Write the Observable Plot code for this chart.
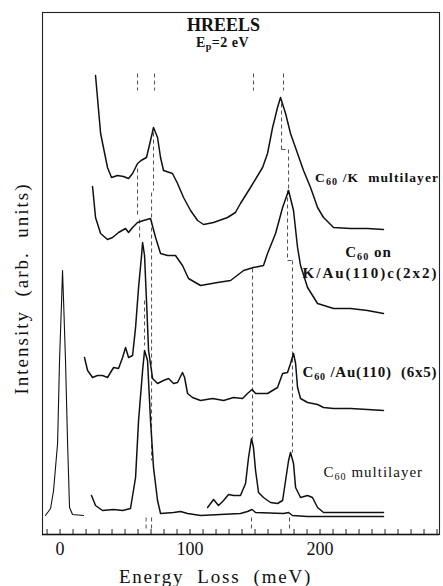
<!DOCTYPE html>
<html>
<head>
<meta charset="utf-8">
<script src="https://cdn.jsdelivr.net/npm/d3@7"></script>
<script src="https://cdn.jsdelivr.net/npm/@observablehq/plot@0.6"></script>
<style>
  html, body { margin: 0; padding: 0; background: #fff; }
  svg text { white-space: pre; }
</style>
</head>
<body>
<div id="chart"></div>
<script>
// Energy loss (meV), intensity (arb. units, stacked offsets as drawn)
const elastic = [[-11.2,19],[-7.3,26],[-5.0,44],[-1.9,91],[-0.4,174],[1.2,234],[1.9,264],[2.7,234],[4.2,174],[5.8,91],[7.3,27],[9.6,20],[18.1,19]];

const c60KMulti = [[27.3,459],[31.2,401],[36.5,367],[39.6,357],[44.2,359],[48.8,358],[52.7,356],[55.8,361],[59.6,371],[62.3,374],[66.5,377],[69.6,394],[71.9,407],[75.0,397],[77.3,377],[79.6,364],[86.5,361],[90.4,351],[95.0,337],[100.4,324],[105.8,314],[110.4,310],[118.1,312],[128.8,317],[134.9,322],[138.8,331],[146.5,347],[155.8,367],[159.6,381],[163.5,407],[167.3,427],[169.6,437],[173.5,421],[177.3,401],[182.7,381],[187.3,364],[192.7,347],[198.1,327],[202.7,317],[210.4,307],[223.5,306],[236.5,306],[248.8,305]];

const c60OnKAu = [[25.0,348],[27.3,317],[31.2,301],[36.5,295],[40.4,297],[45.0,302],[50.4,306],[52.7,302],[55.8,307],[59.6,312],[64.2,314],[69.6,316],[73.5,297],[77.3,281],[82.7,279],[88.8,279],[94.2,269],[98.8,256],[108.1,249],[121.2,252],[131.2,254],[141.2,264],[148.8,267],[156.5,269],[159.6,281],[165.8,301],[171.2,327],[175.8,344],[179.6,324],[182.7,287],[185.0,269],[190.4,247],[198.1,231],[210.4,226],[223.5,226],[236.5,224],[248.8,221]];

const c60Au6x5 = [[18.8,177],[21.2,164],[25.0,157],[28.8,159],[32.7,159],[36.5,157],[41.2,167],[45.0,166],[48.1,177],[50.4,187],[52.7,177],[55.8,179],[58.1,207],[60.4,247],[62.7,279],[63.5,292],[65.0,279],[66.5,234],[68.1,184],[71.2,156],[75.0,151],[79.6,154],[83.5,156],[87.3,151],[90.4,152],[94.2,162],[95.8,157],[98.1,141],[101.9,137],[108.1,134],[117.3,136],[125.8,134],[133.5,137],[140.4,136],[144.2,141],[147.7,145],[150.4,141],[159.6,141],[167.3,147],[171.2,161],[175.0,162],[177.3,171],[179.6,181],[181.2,171],[182.7,147],[185.0,136],[190.4,132],[198.1,130],[202.7,127],[210.4,126],[223.5,126],[236.5,125],[248.8,124]];

const c60Multi = [[24.2,39],[27.3,29],[32.7,24],[41.2,25],[48.1,24],[54.2,26],[58.1,57],[60.4,114],[63.5,164],[65.0,184],[67.3,174],[69.6,114],[71.9,67],[75.0,34],[77.3,21],[87.3,22],[92.7,23],[98.1,21],[108.1,19],[138.8,21],[144.2,23],[147.7,25],[150.4,22],[171.9,21],[175.8,22],[178.8,19],[190.4,18],[248.8,18]];

const c60MultiZoom = [[113.5,27],[118.1,35],[121.9,29],[125.8,34],[129.6,40],[133.5,39],[138.8,39],[142.7,51],[145.0,77],[147.3,96],[148.8,87],[150.4,64],[152.7,42],[156.5,37],[161.9,32],[167.3,31],[171.2,34],[173.5,54],[175.8,74],[177.3,82],[179.6,71],[181.2,47],[185.0,37],[190.4,39],[194.2,37],[198.1,27],[202.7,22],[215.8,22],[248.8,22]];

// dashed guide segments: [x1, y1, x2, y2]
const guides = [
  [59.6,461,59.6,444],[72.7,461,72.7,444],[148.8,461,148.8,444],[171.9,461,171.9,444],
  [59.6,366,59.6,319],[61.2,315,61.2,296],[65.0,234,65.0,189],
  [71.9,402,71.9,344],[70.4,342,70.4,74],
  [170.4,431,170.4,385],[170.4,385,175.8,385],[175.8,385,175.8,344],
  [175.0,344,175.0,274],[175.0,274,178.8,274],[178.8,274,178.8,82],
  [148.1,266,148.1,96],
  [66.2,17,66.2,4],[70.4,17,70.4,4],[147.3,17,147.3,4],[176.5,17,176.5,4]
];

const majorTicks = [0, 100, 200];
const minorTicks = d3.range(-10, 300, 10);

const labels = [
  {x:125.8, y:509, text:"HREELS", size:18, weight:"bold", anchor:"middle", ls:0},
  {x:125.0, y:492, text:"E{p}=2 eV", size:14, weight:"bold", anchor:"middle", ls:0.5},
  {x:196.2, y:357, text:"C{60} /K  multilayer", size:13.5, weight:"bold", anchor:"start", ls:1.1},
  {x:237.3, y:282, text:"C{60} on", size:15, weight:"bold", anchor:"middle", ls:1},
  {x:238.8, y:261, text:"K/Au(110)c(2x2)", size:15, weight:"bold", anchor:"middle", ls:2},
  {x:186.5, y:162, text:"C{60} /Au(110)  (6x5)", size:15, weight:"bold", anchor:"start", ls:0.8},
  {x:202.7, y:62, text:"C{60} multilayer", size:15, weight:"normal", anchor:"start", ls:1}
];

const serif = "'Liberation Serif', 'DejaVu Serif', serif";
const toRows = (arr, name) => arr.map(([x, y]) => ({x, y, name}));
const series = [
  ...toRows(elastic, "elastic"),
  ...toRows(c60KMulti, "C60/K multilayer"),
  ...toRows(c60OnKAu, "C60 on K/Au(110)c(2x2)"),
  ...toRows(c60Au6x5, "C60/Au(110) (6x5)"),
  ...toRows(c60Multi, "C60 multilayer"),
  ...toRows(c60MultiZoom, "C60 multilayer x")
];

const yLabel = "Intensity  (arb.  units)";
const xLabel = "Energy  Loss  (meV)";

const chart = Plot.plot({
  width: 443,
  height: 586,
  marginTop: 12,
  marginLeft: 42,
  marginRight: 4,
  marginBottom: 52,
  style: {fontFamily: serif, background: "#fff", color: "#111"},
  x: {domain: [-13.5, 291.9], axis: null},
  y: {domain: [0, 522], axis: null},
  marks: [
    Plot.frame({stroke: "#222", strokeWidth: 1.1}),
    Plot.ruleY([0], {stroke: "#111", strokeWidth: 1.6}),
    Plot.ruleX(minorTicks, {x: d => d, y1: 0, y2: 5, stroke: "#222", strokeWidth: 1}),
    Plot.text(majorTicks, {x: d => d, text: d => String(d), frameAnchor: "bottom", lineAnchor: "middle", dy: 15, fontSize: 18, fontFamily: serif, fill: "#111"}),
    Plot.link(guides, {x1: d => d[0], y1: d => d[1], x2: d => d[2], y2: d => d[3], stroke: "#222", strokeWidth: 0.8, strokeDasharray: "4,3"}),
    Plot.line(series.filter(d => d.name === "elastic"), {x: "x", y: "y", stroke: "#111", strokeWidth: 1.1, curve: "linear"}),
    Plot.line(series.filter(d => d.name !== "elastic"), {x: "x", y: "y", z: "name", stroke: "#111", strokeWidth: 1.5, curve: "linear"}),
    ...labels.map(l => Plot.text([l], {x: "x", y: "y", text: "text", fontSize: l.size, fontWeight: l.weight, fontFamily: serif, textAnchor: l.anchor, fill: "#111"})),
    Plot.text([{y: 246}], {y: "y", text: () => yLabel, frameAnchor: "left", textAnchor: "middle", lineAnchor: "middle", dx: -21, rotate: -90, fontSize: 19, fontFamily: serif, fill: "#111"}),
    Plot.text([{x: 119.6}], {x: "x", text: () => xLabel, frameAnchor: "bottom", textAnchor: "middle", lineAnchor: "middle", dy: 42, fontSize: 19, fontFamily: serif, fill: "#111"})
  ]
});

// letter spacing to mimic the typewritten look
const spacing = new Map(labels.map(l => [l.text, l.ls]));
spacing.set(yLabel, 2);
spacing.set(xLabel, 1.8);
chart.querySelectorAll("text").forEach(t => {
  const s = t.textContent;
  if (spacing.has(s)) t.style.letterSpacing = spacing.get(s) + "px";
});

// subscripts: text written as C{60} -> C with smaller lowered 60
chart.querySelectorAll("text").forEach(t => {
  const s = t.textContent;
  if (!s.includes("{")) return;
  const fs = parseFloat(t.getAttribute("font-size")) || 14;
  t.textContent = "";
  const parts = s.split(/(\{[^}]*\})/);
  let shifted = false;
  parts.forEach(p => {
    if (!p) return;
    const ts = document.createElementNS("http://www.w3.org/2000/svg", "tspan");
    if (p.startsWith("{")) {
      ts.textContent = p.slice(1, -1);
      ts.setAttribute("font-size", (fs * 0.72).toFixed(1));
      ts.setAttribute("dy", (fs * 0.22).toFixed(1));
      shifted = true;
    } else {
      ts.textContent = p;
      if (shifted) { ts.setAttribute("dy", (-fs * 0.22).toFixed(1)); shifted = false; }
    }
    t.appendChild(ts);
  });
});

document.getElementById("chart").appendChild(chart);
</script>
</body>
</html>
